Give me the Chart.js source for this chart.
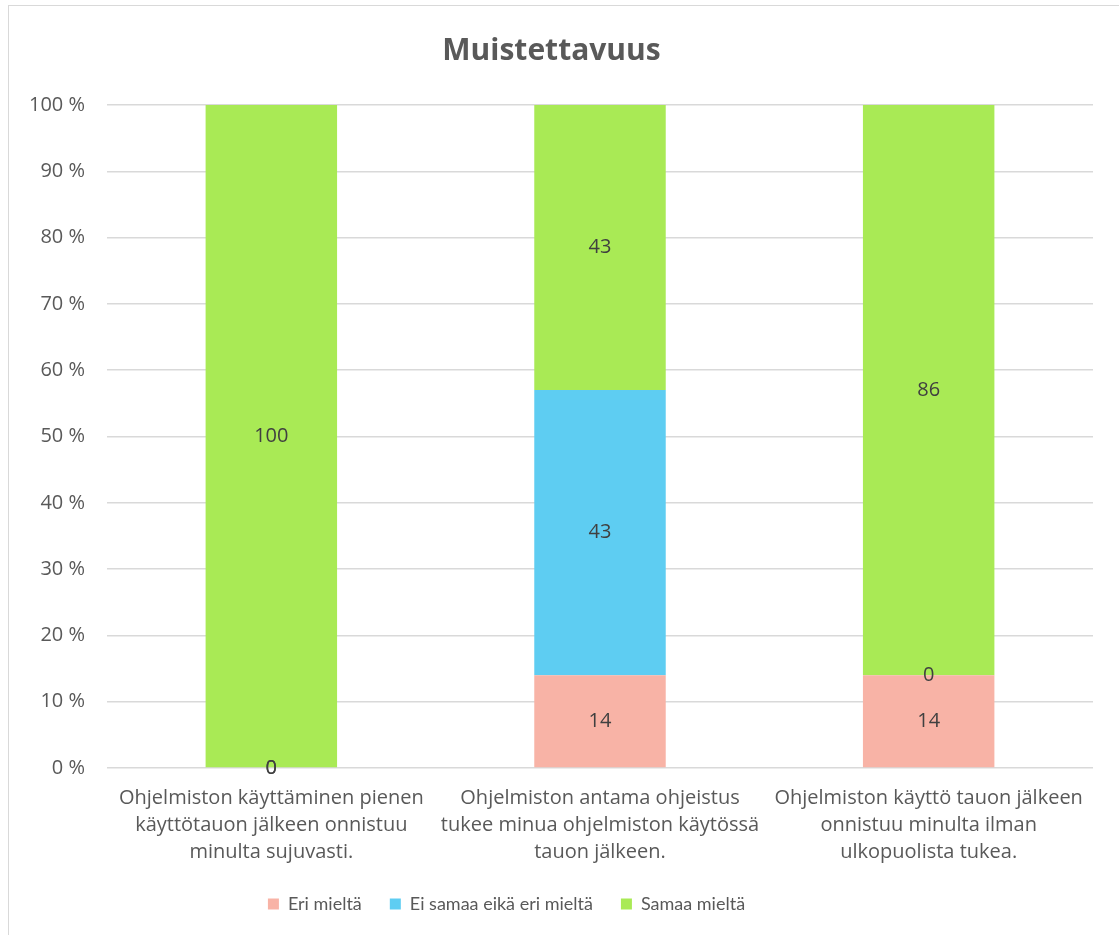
<!DOCTYPE html>
<html>
<head>
<meta charset="utf-8">
<script src="https://cdn.jsdelivr.net/npm/chart.js@4.4.1/dist/chart.umd.min.js"></script>
<style>
    html, body { margin: 0; padding: 0; background: #fff; }
    body { width: 1119px; height: 935px; position: relative; overflow: hidden; }
    #kehys { position: absolute; left: 8px; top: 5px; width: 1130px; height: 960px; border: 1.5px solid #d9d9d9; box-sizing: border-box; }
    #alue { position: absolute; left: 0; top: 0; width: 1119px; height: 935px; }
</style>
</head>
<body>
<div id="kehys"></div>
<div id="alue"><canvas id="graafi"></canvas></div>
<script>
// Kysymykset (x-akselin nimet riveittäin)
const kysymykset = [
    ["Ohjelmiston käyttäminen pienen", "käyttötauon jälkeen onnistuu", "minulta sujuvasti."],
    ["Ohjelmiston antama ohjeistus", "tukee minua ohjelmiston käytössä", "tauon jälkeen."],
    ["Ohjelmiston käyttö tauon jälkeen", "onnistuu minulta ilman", "ulkopuolista tukea."]
];

// Vastausten osuudet (%)
const eriMielta = [0, 14, 14];
const eiSamaaEikaEri = [0, 43, 0];
const samaaMielta = [100, 43, 86];

const sarjaNimet = ["Eri mieltä", "Ei samaa eikä eri mieltä", "Samaa mieltä"];
const varit = ["#f8b3a6", "#5ecdf2", "#a9ea55"];

const tekstiVari = "#595959";
const fontti = "'Open Sans', 'Liberation Sans', sans-serif";

// Arvot palkkien keskelle
const arvoLaput = {
    id: 'arvoLaput',
    afterDatasetsDraw(chart) {
        const ctx = chart.ctx;
        ctx.save();
        ctx.font = "20px " + fontti;
        ctx.fillStyle = "#404040";
        ctx.textAlign = "center";
        ctx.textBaseline = "middle";
        chart.data.datasets.forEach((ds, i) => {
            const meta = chart.getDatasetMeta(i);
            meta.data.forEach((palkki, j) => {
                const y = (palkki.y + palkki.base) / 2;
                ctx.fillText(String(ds.data[j]), palkki.x, y);
            });
        });
        ctx.restore();
    }
};

// Selite hieman vasemmalle keskeltä
const seliteSiirto = {
    id: 'seliteSiirto',
    afterLayout(chart) {
        const sel = chart.legend;
        if (!sel) return;
        sel.left -= 45;
        sel.right -= 45;
    }
};

const ctx = document.getElementById('graafi').getContext('2d');

new Chart(ctx, {
    type: 'bar',
    plugins: [arvoLaput, seliteSiirto],
    data: {
        labels: kysymykset,
        datasets: [
            { label: sarjaNimet[0], data: eriMielta, backgroundColor: varit[0] },
            { label: sarjaNimet[1], data: eiSamaaEikaEri, backgroundColor: varit[1] },
            { label: sarjaNimet[2], data: samaaMielta, backgroundColor: varit[2] }
        ]
    },
    options: {
        responsive: true,
        maintainAspectRatio: false,
        animation: false,
        datasets: {
            bar: { categoryPercentage: 1, barPercentage: 0.4, borderWidth: 0 }
        },
        layout: {
            padding: { left: 10, right: 26, top: 0, bottom: 12 }
        },
        plugins: {
            title: {
                display: true,
                text: 'Muistettavuus',
                color: tekstiVari,
                font: { family: fontti, size: 30, weight: 'bold' },
                padding: { top: 33, bottom: 36 }
            },
            legend: {
                position: 'bottom',
                labels: {
                    color: tekstiVari,
                    font: { family: "Lato, " + fontti, size: 18 },
                    boxWidth: 11,
                    boxHeight: 11,
                    padding: 28
                }
            },
            tooltip: { enabled: false }
        },
        scales: {
            x: {
                stacked: true,
                grid: { display: false },
                border: { display: false },
                ticks: {
                    color: tekstiVari,
                    font: { family: fontti, size: 20, lineHeight: 1.35 },
                    maxRotation: 0,
                    autoSkip: false,
                    padding: 9
                },
                afterFit: (skaala) => { skaala.height = 99; }
            },
            y: {
                stacked: true,
                min: 0,
                max: 100,
                grid: { color: '#d9d9d9', lineWidth: 1.5, drawTicks: false },
                border: { display: false },
                ticks: {
                    stepSize: 10,
                    padding: 22,
                    color: tekstiVari,
                    font: { family: fontti, size: 20 },
                    callback: (arvo) => arvo + ' %'
                },
                afterFit: (skaala) => { skaala.width = 97; }
            }
        }
    }
});
</script>
</body>
</html>
